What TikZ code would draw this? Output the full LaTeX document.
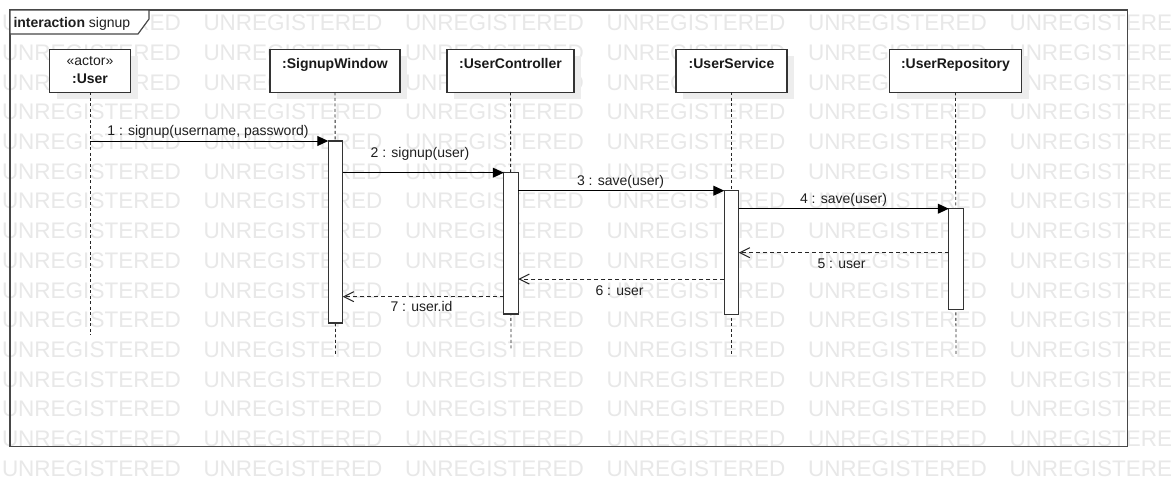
\documentclass[tikz,border=0pt]{standalone}
\usepackage{fontspec}
\setmainfont{Liberation Sans}
\usetikzlibrary{arrows.meta,shadows}

\begin{document}
\begin{tikzpicture}[x=1pt,y=-1pt,
  every node/.style={inner sep=0pt,outer sep=0pt},
  wm/.style={font=\fontsize{22.5}{24}\selectfont,text=black!9,anchor=west},
  lbl/.style={font=\fontsize{14}{16}\selectfont,text=black!88},
  ttl/.style={font=\fontsize{14}{16}\selectfont\bfseries,text=black!90},
  framebox/.style={draw=black!72,line width=1.2pt},
  hdr/.style={draw=black!80,line width=1.2pt,fill=white,minimum height=43pt,
    drop shadow={shadow xshift=7pt,shadow yshift=-7pt,fill=black!7,opacity=1}},
  act/.style={draw=black!80,line width=1.1pt,fill=white,minimum width=14.5pt},
  lifeline/.style={draw=black!85,line width=0.9pt,dash pattern=on 3pt off 2.5pt},
  msg/.style={draw=black,line width=1pt,-{Triangle[length=11pt,width=10pt]}},
  ret/.style={draw=black!85,line width=1pt,dash pattern=on 4pt off 3pt,
    -{Straight Barb[length=10pt,width=10pt]}}
]
\useasboundingbox (0,0) rectangle (1171,491);
\fill[white] (0,0) rectangle (1171,491);

% background text grid
\foreach \r in {0,...,15}{
  \foreach \c in {0,...,5}{
    \node[wm] (wm-\r-\c) at ({\c*201.5+2},{23+\r*29.7}) {UNREGISTERED};
  }
}

% interaction frame
\draw[framebox] (10,10) rectangle (1127.5,446.7);
\draw[framebox,fill=white] (10,10) -- (149,10) -- (149,19) -- (138,34) -- (10,34) -- cycle;
\node[lbl,anchor=base west] (frame) at (13.5,27.5) {\textbf{interaction} signup};

% lifeline heads
\node[hdr,minimum width=81pt,anchor=north west] (user) at (49.5,49.3) {};
\node[hdr,minimum width=130pt,anchor=north west] (win) at (270,49.3) {};
\node[hdr,minimum width=127pt,anchor=north west] (ctrl) at (447,49.3) {};
\node[hdr,minimum width=111pt,anchor=north west] (svc) at (676,49.3) {};
\node[hdr,minimum width=132pt,anchor=north west] (repo) at (889.5,49.3) {};

\node[lbl,anchor=base] (user-st) at (90,65.7) {«actor»};
\node[ttl,anchor=base] (user-t) at (90,83.3) {:User};
\node[ttl,anchor=base] (win-t) at (335,68.5) {:SignupWindow};
\node[ttl,anchor=base] (ctrl-t) at (510.5,68.5) {:UserController};
\node[ttl,anchor=base] (svc-t) at (731.5,68.5) {:UserService};
\node[ttl,anchor=base] (repo-t) at (955.5,68.5) {:UserRepository};

% lifeline ends
\coordinate (user-end) at (90,335);
\coordinate (win-end) at (335.5,356);
\coordinate (ctrl-end) at (511,349);
\coordinate (svc-end) at (731.5,356);
\coordinate (repo-end) at (956,356);

\draw[lifeline] (user.south) -- (user-end);
\draw[lifeline] (win.south) -- (win-end);
\draw[lifeline] (ctrl.south) -- (ctrl-end);
\draw[lifeline] (svc.south) -- (svc-end);
\draw[lifeline] (repo.south) -- (repo-end);

% activation bars
\node[act,minimum height=182pt,anchor=north] (a1) at (335.5,141) {};
\node[act,minimum height=141.3pt,anchor=north] (a2) at (511,172.7) {};
\node[act,minimum height=124pt,anchor=north] (a3) at (731.5,190.7) {};
\node[act,minimum height=100.6pt,anchor=north] (a4) at (956,208.7) {};

% calls
\draw[msg] (user.south |- a1.north west) -- (a1.north west);
\draw[msg] (a1.east |- a2.north west) -- (a2.north west);
\draw[msg] (a2.east |- a3.north west) -- (a3.north west);
\draw[msg] (a3.east |- a4.north west) -- (a4.north west);

% replies
\coordinate (r5) at (0,252.7);
\coordinate (r6) at (0,279);
\coordinate (r7) at (0,296.7);
\draw[ret] (a4.west |- r5) -- (a3.east |- r5);
\draw[ret] (a3.west |- r6) -- (a2.east |- r6);
\draw[ret] (a2.west |- r7) -- (a1.east |- r7);

% message labels
\node[lbl,anchor=base] (m1) at (208,135) {1 : signup(username, password)};
\node[lbl,anchor=base] (m2) at (420,157.5) {2 : signup(user)};
\node[lbl,anchor=base] (m3) at (620.5,185.5) {3 : save(user)};
\node[lbl,anchor=base] (m4) at (843.5,203) {4 : save(user)};
\node[lbl,anchor=base] (m5) at (841.5,268) {5 : user};
\node[lbl,anchor=base] (m6) at (619.5,295.5) {6 : user};
\node[lbl,anchor=base] (m7) at (421.5,311.7) {7 : user.id};
\end{tikzpicture}
\end{document}
